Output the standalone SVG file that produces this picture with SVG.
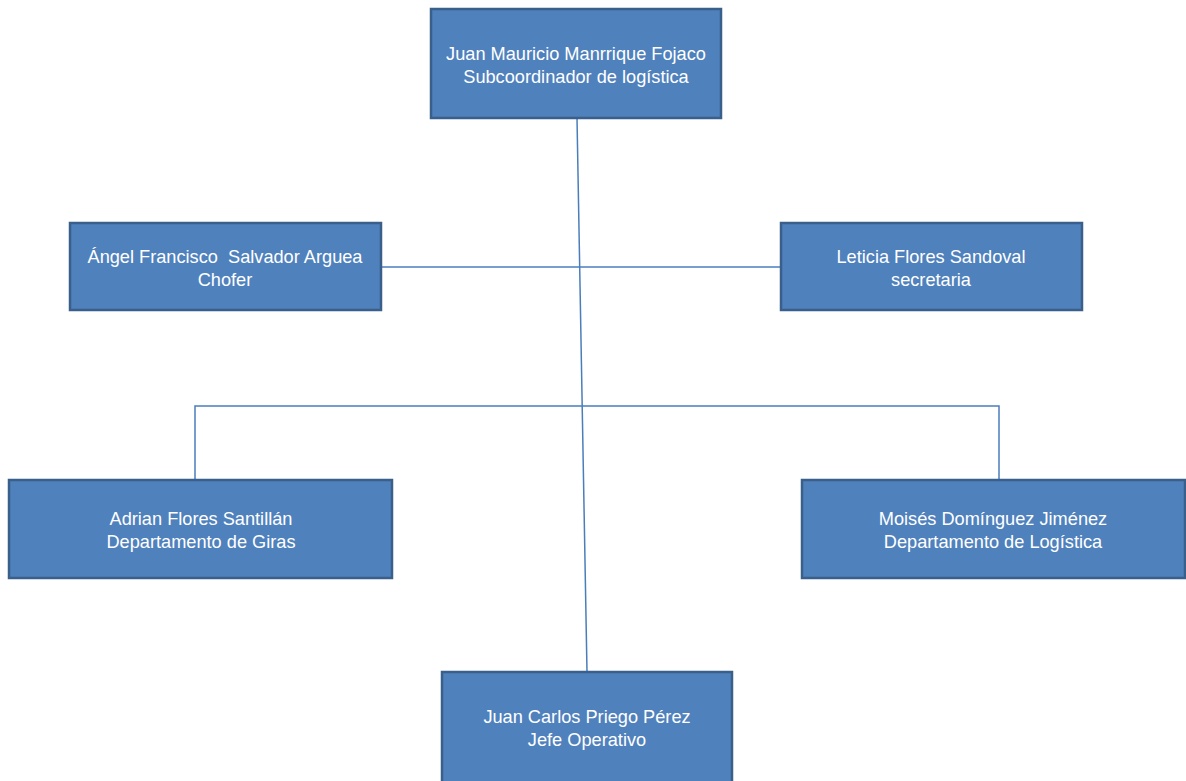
<svg xmlns="http://www.w3.org/2000/svg" width="1186" height="781" viewBox="0 0 1186 781">
<style>
.box{fill:#4f81bd;stroke:#3a5f8b;stroke-width:2.5}
.t{font-family:"Liberation Sans",Arial,sans-serif;font-size:18.2px;fill:#ffffff;text-anchor:middle;white-space:pre}
.c{fill:none;stroke:#4a7ebb;stroke-width:1.5}
</style>
<rect width="1186" height="781" fill="#ffffff"/>
<g id="connectors">
<line class="c" x1="577" y1="118" x2="587" y2="672"/>
<line class="c" x1="381" y1="267" x2="781" y2="267"/>
<polyline class="c" points="195,480 195,406 999,406 999,480"/>
</g>
<g id="n1"><rect class="box" x="431" y="9" width="290" height="109"/>
<text class="t" x="576" y="60">Juan Mauricio Manrrique Fojaco</text>
<text class="t" x="576" y="83">Subcoordinador de logística</text></g>
<g id="n2"><rect class="box" x="70" y="223" width="311" height="87"/>
<text class="t" x="225" y="263" xml:space="preserve">Ángel Francisco  Salvador Arguea</text>
<text class="t" x="225" y="286">Chofer</text></g>
<g id="n3"><rect class="box" x="781" y="223" width="301" height="87"/>
<text class="t" x="931" y="263">Leticia Flores Sandoval</text>
<text class="t" x="931" y="286">secretaria</text></g>
<g id="n4"><rect class="box" x="9" y="480" width="383" height="98"/>
<text class="t" x="201" y="525">Adrian Flores Santillán</text>
<text class="t" x="201" y="548">Departamento de Giras</text></g>
<g id="n5"><rect class="box" x="802" y="480" width="383" height="98"/>
<text class="t" x="993" y="525">Moisés Domínguez Jiménez</text>
<text class="t" x="993" y="548">Departamento de Logística</text></g>
<g id="n6"><rect class="box" x="442" y="672" width="290" height="112"/>
<text class="t" x="587" y="723">Juan Carlos Priego Pérez</text>
<text class="t" x="587" y="746">Jefe Operativo</text></g>
</svg>
